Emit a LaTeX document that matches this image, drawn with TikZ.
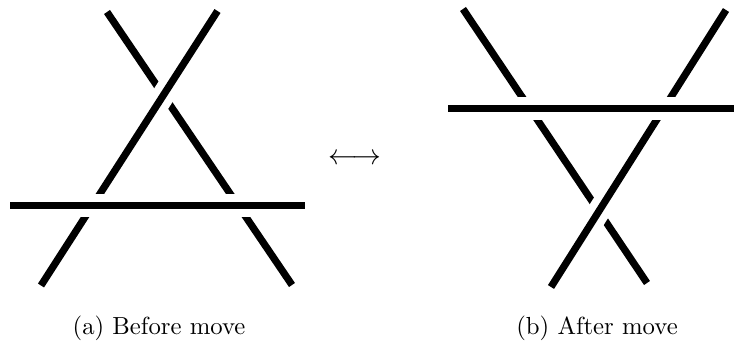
\documentclass[tikz,border=0pt]{standalone}
\usepackage{amsmath}

\tikzset{
  strand/.style={line width=3pt},
  over/.style={line width=9.5pt, white},
  caption/.style={anchor=base, inner sep=0pt, scale=1.03}
}

\begin{document}
\begin{tikzpicture}[x=0.4167pt, y=-0.4167pt]
  \useasboundingbox (0,0) rectangle (734,342);

  % Before move
  \coordinate (at) at (217.5,11);
  \coordinate (ab) at (41,285.5);
  \coordinate (bt) at (107,12);
  \coordinate (bb) at (292,285);
  \coordinate (cl) at (10,205.5);
  \coordinate (cr) at (305,205.5);

  % After move
  \coordinate (dt) at (463,9);
  \coordinate (db) at (647,283);
  \coordinate (et) at (726,10);
  \coordinate (eb) at (551,287);
  \coordinate (fl) at (448,108.5);
  \coordinate (fr) at (734,108.5);

  % under strand, then over strand, then the horizontal one
  \foreach \under/\underend/\top/\topend/\left/\right in {bt/bb/at/ab/cl/cr, dt/db/et/eb/fl/fr}{
    \draw[strand] (\under) -- (\underend);
    \draw[over] (\top) -- (\topend);
    \draw[strand] (\top) -- (\topend);
    \draw[over] (\left) -- (\right);
    \draw[strand] (\left) -- (\right);
  }

  \node[scale=1.2] (swap) at (354.5,159.5) {$\longleftrightarrow$};
  \node[caption] (capa) at (159,334.5) {(a) Before move};
  \node[caption] (capb) at (597,334.5) {(b) After move};
\end{tikzpicture}
\end{document}
